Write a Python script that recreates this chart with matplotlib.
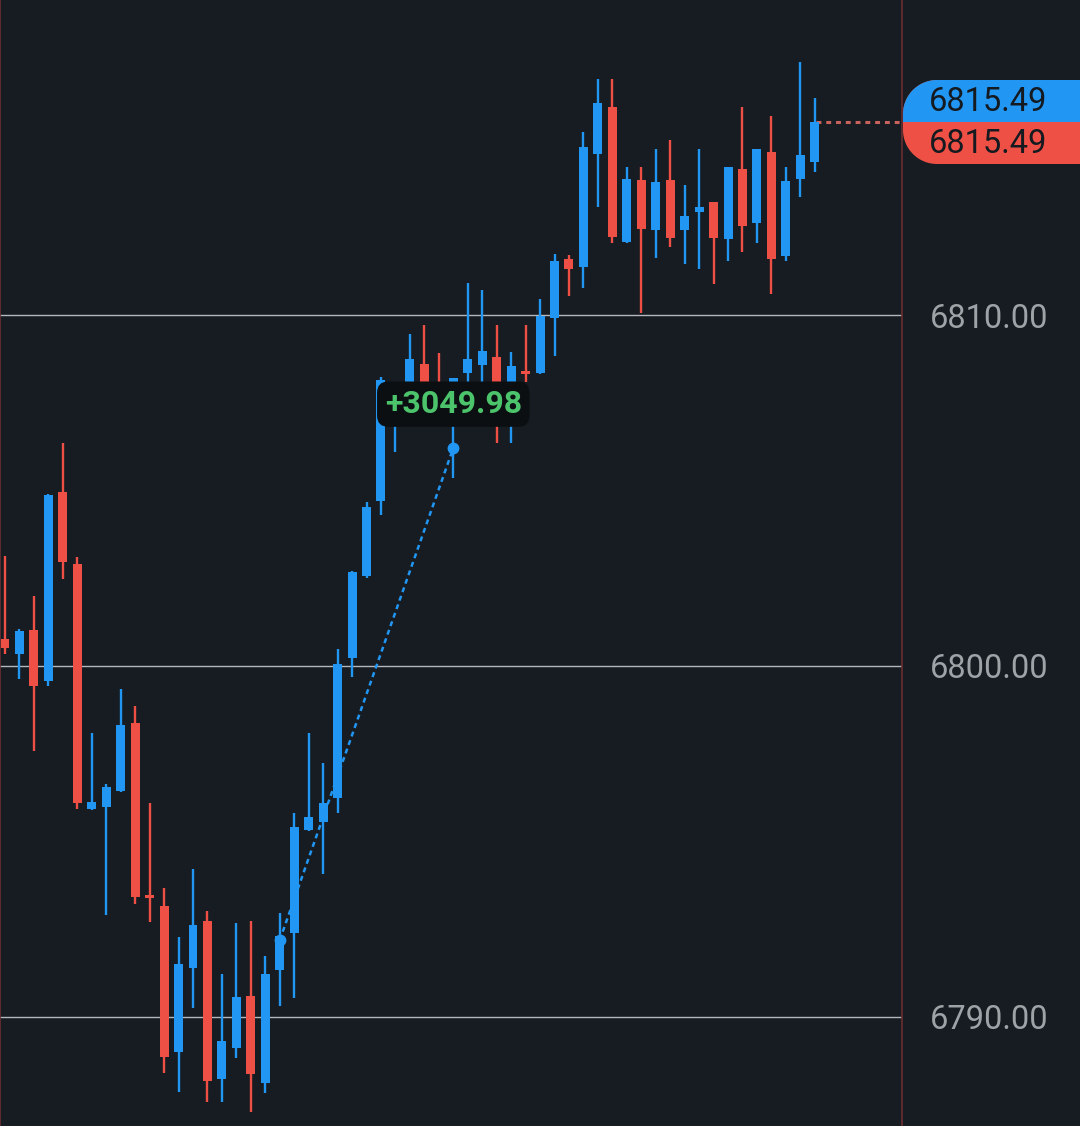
import matplotlib
matplotlib.use("Agg")
import matplotlib.pyplot as plt
from matplotlib.patches import Polygon, Rectangle
import numpy as np

# ---- data ----
opens = [6800.77, 6800.34, 6801.03, 6799.57, 6804.96, 6802.91, 6795.93, 6795.98, 6796.44, 6798.38,
         6793.40, 6793.16, 6789.00, 6791.40, 6792.74, 6788.23, 6789.12, 6790.60, 6788.12, 6791.34,
         6792.39, 6795.33, 6795.56, 6796.24, 6800.23, 6802.56, 6804.70, 6807.15, 6807.72, 6808.60,
         6808.01, 6807.01, 6808.35, 6808.58, 6808.80, 6807.72, 6808.38, 6808.35, 6809.91, 6811.60,
         6811.37, 6814.59, 6815.93, 6812.08, 6813.85, 6812.42, 6813.85, 6812.42, 6812.93, 6813.22,
         6812.17, 6814.16, 6812.62, 6814.64, 6811.68, 6813.87, 6814.36]
highs = [6803.13, 6801.05, 6801.99, 6804.90, 6806.35, 6803.11, 6798.09, 6796.64, 6799.34, 6798.86,
         6796.10, 6793.68, 6792.28, 6794.22, 6793.02, 6791.23, 6792.68, 6792.74, 6791.74, 6792.96,
         6795.81, 6798.09, 6797.24, 6800.48, 6802.71, 6804.67, 6808.23, 6807.95, 6809.46, 6809.72,
         6808.92, 6808.21, 6810.91, 6810.71, 6809.72, 6808.95, 6809.72, 6810.46, 6811.74, 6811.71,
         6815.21, 6816.72, 6816.72, 6814.22, 6814.22, 6814.73, 6814.99, 6813.70, 6814.73, 6813.22,
         6814.22, 6815.93, 6814.73, 6815.67, 6814.22, 6817.21, 6816.18]
lows = [6800.34, 6799.63, 6797.58, 6799.43, 6802.48, 6795.93, 6795.90, 6792.91, 6796.41, 6793.22,
        6792.71, 6788.40, 6787.86, 6790.26, 6787.58, 6787.58, 6788.83, 6787.29, 6787.83, 6790.31,
        6790.54, 6795.30, 6794.07, 6795.81, 6799.69, 6802.50, 6804.30, 6806.10, 6807.58, 6807.44,
        6807.01, 6805.36, 6807.58, 6807.72, 6806.35, 6806.35, 6808.09, 6808.32, 6808.83, 6810.54,
        6810.77, 6813.08, 6812.05, 6812.05, 6810.06, 6811.62, 6811.94, 6811.45, 6811.31, 6810.88,
        6811.54, 6811.79, 6812.05, 6810.60, 6811.54, 6813.36, 6814.07]
closes = [6800.51, 6801.00, 6799.43, 6804.87, 6802.96, 6796.10, 6796.13, 6796.55, 6798.32, 6793.42,
          6793.38, 6788.86, 6791.51, 6792.62, 6788.18, 6789.32, 6790.57, 6788.38, 6791.23, 6792.31,
          6795.41, 6795.70, 6796.10, 6800.06, 6802.68, 6804.53, 6808.15, 6807.72, 6808.75, 6807.72,
          6807.44, 6808.21, 6808.75, 6808.97, 6807.58, 6808.55, 6808.32, 6809.97, 6811.54, 6811.31,
          6814.79, 6816.04, 6812.22, 6813.87, 6812.45, 6813.79, 6812.19, 6812.82, 6813.08, 6812.19,
          6814.22, 6812.54, 6814.73, 6811.60, 6813.82, 6814.56, 6815.49]

y_ticks = [6790.00, 6800.00, 6810.00]
measure_from = (19, 6792.19)
measure_to = (31, 6806.21)
measure_label = "+3049.98"
last_price = 6815.49

# ---- style ----
BG = "#161c21"
UP = "#2196f3"
DOWN = "#ef5045"
GRID = "#b4b8bc"
TICK = "#9ea3a8"
SPINE = "#6b2f31"
FONT = "Roboto"

W, H = 1080, 1126
fig = plt.figure(figsize=(W / 100, H / 100), dpi=100, facecolor=BG)
ax = fig.add_axes([0, 0, 902 / W, 1])
ax.set_facecolor(BG)

n = len(opens)
x = np.arange(n)
o = np.array(opens); c = np.array(closes); h = np.array(highs); l = np.array(lows)
up = c > o
cols = np.where(up, UP, DOWN)

# grid
for yt in y_ticks:
    ax.axhline(yt, color=GRID, lw=1.0, zorder=1)

# wicks
ax.vlines(x, l, h, colors=cols, lw=1.7, zorder=3)
# bodies
bottom = np.minimum(o, c)
height = np.maximum(np.abs(c - o), 0.09)
ax.bar(x, height, bottom=bottom, width=0.62, color=cols, edgecolor="none", zorder=4)

# measurement line
ax.plot([measure_from[0], measure_to[0]], [measure_from[1], measure_to[1]],
        color=UP, lw=1.8, dashes=(2, 1.6), zorder=5)
ax.plot([measure_from[0], measure_to[0]], [measure_from[1], measure_to[1]],
        ls="none", marker="o", ms=7.5, color=UP, zorder=6)
ax.text(measure_to[0], 6807.46, measure_label, ha="center", va="center",
        fontsize=23, fontweight="bold", family=FONT, color="#4cc46c", zorder=8,
        bbox=dict(boxstyle="round,pad=0.24,rounding_size=0.35", fc="#0b0f12", ec="none"))

# last price dashed line
ax.plot([n - 1 + 0.1, 62.5], [last_price, last_price], color="#c8625c", lw=2.2,
        dashes=(1.6, 1.6), zorder=2, clip_on=True)

ax.set_xlim(-0.346, 62.03)
ax.set_ylim(6810 - 811 / 35.1, 6810 + 315 / 35.1)
ax.set_xticks([])
ax.set_yticks(y_ticks)
ax.set_yticklabels([f"{v:.2f}" for v in y_ticks])
ax.yaxis.tick_right()
ax.tick_params(axis="y", length=0, pad=20, labelsize=23.5, labelcolor=TICK)
for lab in ax.get_yticklabels():
    lab.set_family(FONT)
for s in ["top", "bottom"]:
    ax.spines[s].set_visible(False)
for s in ["left", "right"]:
    ax.spines[s].set_color(SPINE)
    ax.spines[s].set_linewidth(1.2)

# ---- price tags on a pixel-coordinate overlay ----
ov = fig.add_axes([0, 0, 1, 1], zorder=10)
ov.set_xlim(0, W)
ov.set_ylim(H, 0)
ov.axis("off")
ov.patch.set_alpha(0)

tag_x0, tag_x1 = 903, 1085
tag_top, tag_mid, tag_bot = 80, 122, 164
R = 34
th1 = np.linspace(np.pi / 2, np.pi, 30)
th2 = np.linspace(np.pi, 3 * np.pi / 2, 30)
cx = tag_x0 + R
top_arc = np.column_stack([cx + R * np.cos(th1), (tag_top + R) - R * np.sin(th1)])
bot_arc = np.column_stack([cx + R * np.cos(th2), (tag_bot - R) - R * np.sin(th2)])
pts = np.vstack([[[tag_x1, tag_top]], top_arc, bot_arc, [[tag_x1, tag_bot]]])

red = Polygon(pts, closed=True, fc=DOWN, ec="none")
ov.add_patch(red)
blue = Polygon(pts, closed=True, fc=UP, ec="none")
ov.add_patch(blue)
clip = Rectangle((tag_x0 - 5, tag_top - 5), 300, tag_mid - tag_top + 5, transform=ov.transData)
blue.set_clip_path(clip)

ov.text(929, 102, f"{last_price:.2f}", ha="left", va="center", fontsize=23.5,
        family=FONT, color="#141a20")
ov.text(929, 144, f"{last_price:.2f}", ha="left", va="center", fontsize=23.5,
        family=FONT, color="#141a20")

fig.savefig("out.png", dpi=100, facecolor=BG)
